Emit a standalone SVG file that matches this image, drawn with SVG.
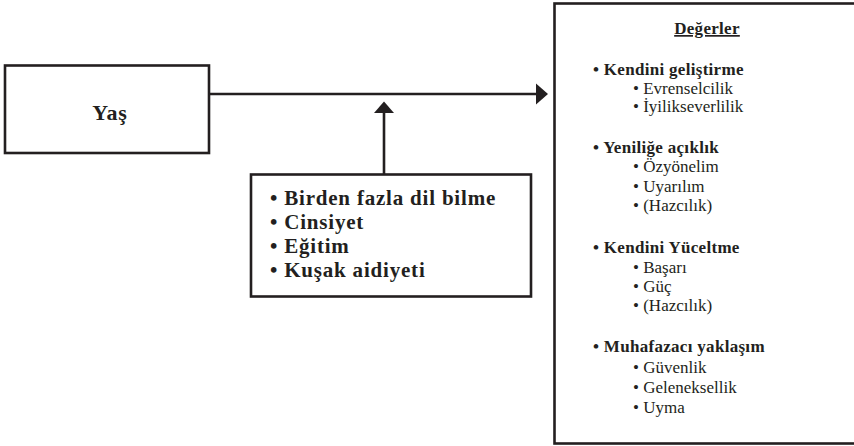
<svg xmlns="http://www.w3.org/2000/svg" width="854" height="446" viewBox="0 0 854 446">
<style>
.box{fill:#fff;stroke:#231f20;stroke-width:2.6}
.ln{fill:none;stroke:#231f20;stroke-width:2.6}
.ah{fill:#231f20}
text{font-family:"Liberation Serif","Times New Roman",serif;fill:#231f20}
.b{font-weight:bold}
.big{font-size:21px;letter-spacing:0.8px}
.hd{font-size:17px;letter-spacing:0.3px}
.it{font-size:17px}
</style>
<rect width="854" height="446" fill="#fff"/>
<g id="yas">
<rect class="box" x="5" y="65.5" width="204" height="87.5"/>
<text class="b" x="110" y="120" text-anchor="middle" font-size="22" letter-spacing="0.8">Yaş</text>
</g>
<g id="faktorler">
<rect class="box" x="251" y="174.5" width="280" height="122"/>
<text class="b big" x="270" y="205">• Birden fazla dil bilme</text>
<text class="b big" x="270" y="229">• Cinsiyet</text>
<text class="b big" x="270" y="253">• Eğitim</text>
<text class="b big" x="270" y="277">• Kuşak aidiyeti</text>
</g>
<g id="degerler">
<rect class="box" x="554.5" y="3.5" width="303" height="440"/>
<text class="b hd" x="707" y="34" text-anchor="middle" text-decoration="underline">Değerler</text>
<text class="b hd" x="593" y="75">• Kendini geliştirme</text>
<text class="it" x="633" y="94">• Evrenselcilik</text>
<text class="it" x="633" y="112">• İyilikseverlilik</text>
<text class="b hd" x="593" y="153">• Yeniliğe açıklık</text>
<text class="it" x="633" y="172">• Özyönelim</text>
<text class="it" x="633" y="192">• Uyarılım</text>
<text class="it" x="633" y="211">• (Hazcılık)</text>
<text class="b hd" x="593" y="253">• Kendini Yüceltme</text>
<text class="it" x="633" y="273">• Başarı</text>
<text class="it" x="633" y="292">• Güç</text>
<text class="it" x="633" y="311">• (Hazcılık)</text>
<text class="b hd" x="593" y="352">• Muhafazacı yaklaşım</text>
<text class="it" x="633" y="373">• Güvenlik</text>
<text class="it" x="633" y="393">• Geleneksellik</text>
<text class="it" x="633" y="413">• Uyma</text>
</g>
<g id="connectors">
<line class="ln" x1="209" y1="94" x2="538" y2="94"/>
<polygon class="ah" points="536,83.5 548,94 536,104.5"/>
<line class="ln" x1="384" y1="174" x2="384" y2="111"/>
<polygon class="ah" points="374,113 384,101.5 394,113"/>
</g>
</svg>
